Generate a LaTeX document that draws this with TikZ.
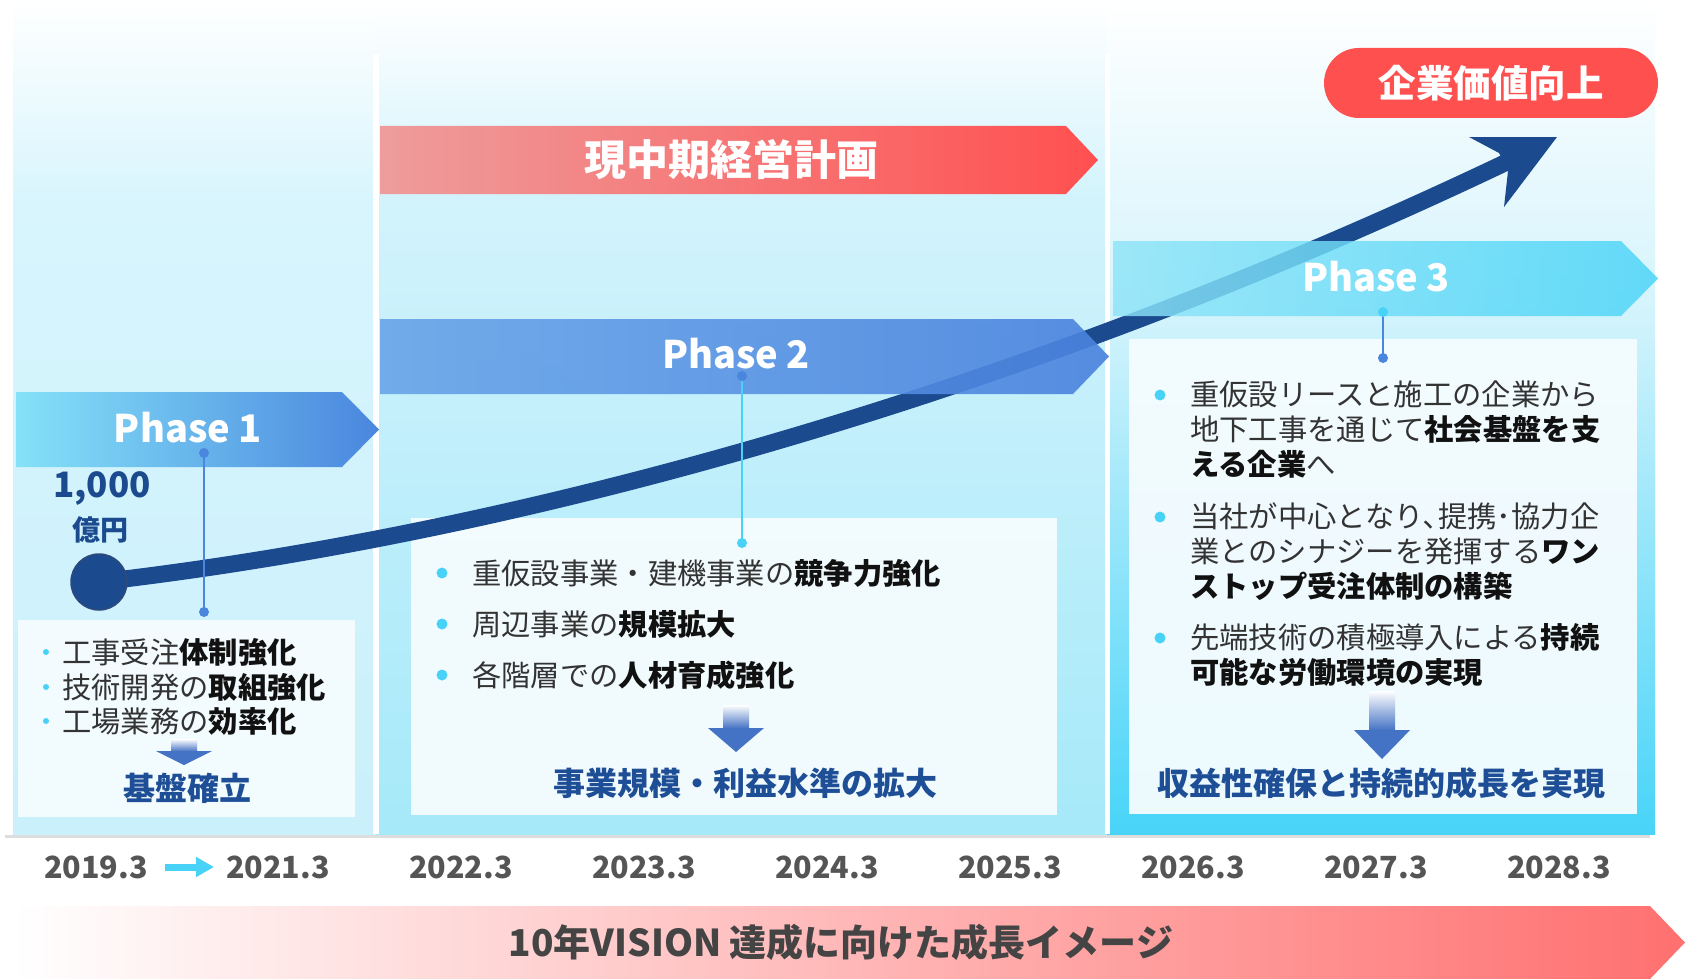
\documentclass[tikz,border=0pt]{standalone}
\usepackage{fontspec}
\setmainfont{Noto Sans CJK JP}
\usetikzlibrary{arrows.meta}
\definecolor{navy}{HTML}{1B4A8F}
\definecolor{navyedge}{HTML}{2D4A7A}
\definecolor{c1}{HTML}{D8F5FD}
\definecolor{c1b}{HTML}{CAF0FB}
\definecolor{c2}{HTML}{D2F3FC}
\definecolor{c2b}{HTML}{A6E9F9}
\definecolor{c3}{HTML}{D6F4FC}
\definecolor{c3b}{HTML}{48D4F8}
\definecolor{redL}{HTML}{EE9C9C}
\definecolor{redR}{HTML}{FF5050}
\definecolor{p1L}{HTML}{84E2F8}
\definecolor{p1R}{HTML}{4A86DE}
\definecolor{p2L}{HTML}{68A4E8}
\definecolor{p2R}{HTML}{4A82DE}
\definecolor{p3L}{HTML}{8EE4F8}
\definecolor{p3R}{HTML}{48D4F8}
\definecolor{cyanc}{HTML}{48D2F8}
\definecolor{bluel}{HTML}{4A86DE}
\definecolor{resblue}{HTML}{1E4E96}
\definecolor{arrblue}{HTML}{4472C4}
\definecolor{pillred}{HTML}{FF5050}
\definecolor{yrgray}{HTML}{555555}
\definecolor{tx}{HTML}{333333}
\definecolor{txb}{HTML}{111111}
\definecolor{boxw}{HTML}{F5FCFF}
\definecolor{btm}{HTML}{FF7070}
\definecolor{bottomtxt}{HTML}{444444}
\definecolor{gline}{HTML}{DDDDDD}
\newcommand\bd[1]{{\bfseries\color{txb}#1}}
\newcommand\dnarrow[4]{%
  \shade[top color=white, bottom color=arrblue] ({#1-13},#2) rectangle ({#1+13},{#3+0.5});
  \fill[arrblue] ({#1-28},#3) -- ({#1+28},#3) -- (#1,#4) -- cycle;}
\begin{document}
\begin{tikzpicture}[x=1pt,y=-1pt,
  txt/.style={anchor=west, inner sep=0pt, text=tx, font=\fontsize{29.3}{35}\selectfont, text height=25.8pt, text depth=3.5pt},
  res/.style={inner sep=0pt, text=resblue, font=\fontsize{32}{36}\selectfont\bfseries},
  phasetxt/.style={inner sep=0pt, text=white, font=\fontsize{38}{44}\selectfont\bfseries},
  yr/.style={inner sep=0pt, text=yrgray, font=\fontsize{30.5}{36}\selectfont\bfseries},
  bigdot/.style={circle, fill=cyanc, inner sep=0pt, minimum size=11pt},
  smalldot/.style={circle, fill=cyanc, inner sep=0pt, minimum size=6pt},
  condot/.style={circle, fill=#1, inner sep=0pt, minimum size=10pt},
  conline/.style={draw=#1, line width=2.5pt},
  boxstyle/.style={fill=boxw, fill opacity=0.95},
  curve/.style={draw=navy, line width=17pt},
]
\useasboundingbox (0,0) rectangle (1688,979);
\fill[white] (0,0) rectangle (1688,979);
% columns
\shade[top color=white, bottom color=c1] (13,0) rectangle (377,201);
\shade[top color=c1, bottom color=c1b] (13,200) rectangle (377,834);
\shade[top color=white, bottom color=c2] (376,0) rectangle (1108,201);
\shade[top color=c2, bottom color=c2b] (376,200) rectangle (1108,834);
\shade[top color=white, bottom color=c3] (1107,0) rectangle (1655,301);
\shade[top color=c3, bottom color=c3b] (1107,300) rectangle (1655,834);
\fill[white] (373,54) rectangle (379,834);
\fill[white] (1105,54) rectangle (1110,834);
\draw[gline, line width=3pt] (5,836) -- (1650,836);
% boxes
\path[boxstyle] (18,620) rectangle (355,817);
\path[boxstyle] (411,518) rectangle (1057,815);
\path[boxstyle] (1129,339) rectangle (1637,814);
% growth curve
\coordinate (c0) at (99,582);
\coordinate (cend) at (1509,161);
\draw[curve] (c0) .. controls (550,530) and (1050,380) .. (cend);
\coordinate (tip) at (1557,137);
\fill[navy] (tip) -- (1469,137) -- (1499,153) -- (1508,171) -- (1504,207) -- cycle;
\node[circle, fill=navy, draw=navyedge, line width=1.5pt, minimum size=56pt, inner sep=0pt] (start) at (c0) {};
% banners
\shade[left color=redL, right color=redR] (380,126) -- (1066,126) -- (1098,160) -- (1066,194) -- (380,194) -- cycle;
\node[inner sep=0pt, text=white, font=\fontsize{42}{46}\selectfont\bfseries] (plan) at (731,160) {現中期経営計画};
\shade[left color=p1L, right color=p1R] (16,392) -- (342,392) -- (379,429.5) -- (342,467) -- (16,467) -- cycle;
\node[phasetxt] (ph1) at (188,428) {Phase 1};
\shade[left color=p2L, right color=p2R, fill opacity=0.9] (380,319) -- (1073,319) -- (1109,356.5) -- (1073,394) -- (380,394) -- cycle;
\node[phasetxt] (ph2) at (736,354) {Phase 2};
\shade[left color=p3L, right color=p3R, fill opacity=0.82] (1113,241) -- (1621,241) -- (1658,278.5) -- (1621,316) -- (1113,316) -- cycle;
\node[phasetxt] (ph3) at (1376,277) {Phase 3};
% pill
\node[fill=pillred, rounded corners=34.9pt, minimum width=334pt, minimum height=70pt, inner sep=0pt, text=white, font=\fontsize{37.5}{42}\selectfont\bfseries] (value) at (1491,83) {企業価値向上};
% 1,000
\node[inner sep=0pt, text=navy, font=\fontsize{35}{40}\selectfont\bfseries] (amt) at (102,489) {1,000};
\node[inner sep=0pt, text=navy, font=\fontsize{28}{32}\selectfont\bfseries] (unit) at (100,530) {億円};
% connectors
\coordinate (p1a) at (204,453);
\coordinate (p1b) at (204,612);
\draw[conline=bluel] (p1a) -- (p1b);
\node[condot=bluel] (p1ad) at (p1a) {};
\node[condot=bluel] (p1bd) at (p1b) {};
\coordinate (p2a) at (742,376);
\coordinate (p2b) at (742,543);
\draw[conline=cyanc] (p2a) -- (p2b);
\node[condot=bluel] (p2ad) at (p2a) {};
\node[condot=cyanc] (p2bd) at (p2b) {};
\coordinate (p3a) at (1383,312);
\coordinate (p3b) at (1383,358);
\draw[conline=bluel] (p3a) -- (p3b);
\node[condot=cyanc] (p3ad) at (p3a) {};
\node[condot=bluel] (p3bd) at (p3b) {};
% phase 1 text
\node[smalldot] (d11) at (46,652) {};
\node[smalldot] (d12) at (46,687) {};
\node[smalldot] (d13) at (46,721) {};
\node[txt] (t11) at (62,652) {工事受注\bd{体制強化}};
\node[txt] (t12) at (62,687) {技術開発の\bd{取組強化}};
\node[txt] (t13) at (62,721) {工場業務の\bd{効率化}};
\dnarrow{184}{739}{751}{765}
\node[res] (r1) at (187,788) {基盤確立};
% phase 2 text
\node[bigdot] (d21) at (442,573) {};
\node[bigdot] (d22) at (442,624) {};
\node[bigdot] (d23) at (442,675) {};
\node[txt] (t21) at (472,573) {重仮設事業・建機事業の\bd{競争力強化}};
\node[txt] (t22) at (472,624) {周辺事業の\bd{規模拡大}};
\node[txt] (t23) at (472,675) {各階層での\bd{人材育成強化}};
\dnarrow{736}{705}{728}{752}
\node[res] (r2) at (745,783) {事業規模・利益水準の拡大};
% phase 3 text
\node[bigdot] (d31) at (1160,395) {};
\node[bigdot] (d32) at (1160,517) {};
\node[bigdot] (d33) at (1160,638) {};
\node[txt] (t31a) at (1190,394) {重仮設リースと施工の企業から};
\node[txt] (t31b) at (1190,429) {地下工事を通じて\bd{社会基盤を支}};
\node[txt] (t31c) at (1190,464) {\bd{える企業}へ};
\node[txt] (t32a) at (1190,516) {当社が中心となり､提携･協力企};
\node[txt] (t32b) at (1190,551) {業とのシナジーを発揮する\bd{ワン}};
\node[txt] (t32c) at (1190,586) {\bd{ストップ受注体制の構築}};
\node[txt] (t33a) at (1190,637) {先端技術の積極導入による\bd{持続}};
\node[txt] (t33b) at (1190,672) {\bd{可能な労働環境の実現}};
\dnarrow{1382}{691}{730}{759}
\node[res] (r3) at (1381,783) {収益性確保と持続的成長を実現};
% years
\foreach \n/\x/\t in {y19/96/2019.3, y21/278/2021.3, y22/461/2022.3, y23/644/2023.3, y24/827/2024.3, y25/1010/2025.3, y26/1193/2026.3, y27/1376/2027.3, y28/1559/2028.3}
  \node[yr] (\n) at (\x,867) {\t};
\draw[cyanc, line width=7pt, -{Triangle[length=18pt,width=19pt]}, shorten <=17pt, shorten >=12pt] (y19.east) -- (y21.west);
% bottom banner
\shade[left color=white, right color=btm] (13,906) -- (1650,906) -- (1685,942.5) -- (1650,979) -- (13,979) -- cycle;
\node[inner sep=0pt, text=bottomtxt, font=\fontsize{37}{42}\selectfont\bfseries] (vision) at (841,942) {10年VISION 達成に向けた成長イメージ};
\end{tikzpicture}
\end{document}
